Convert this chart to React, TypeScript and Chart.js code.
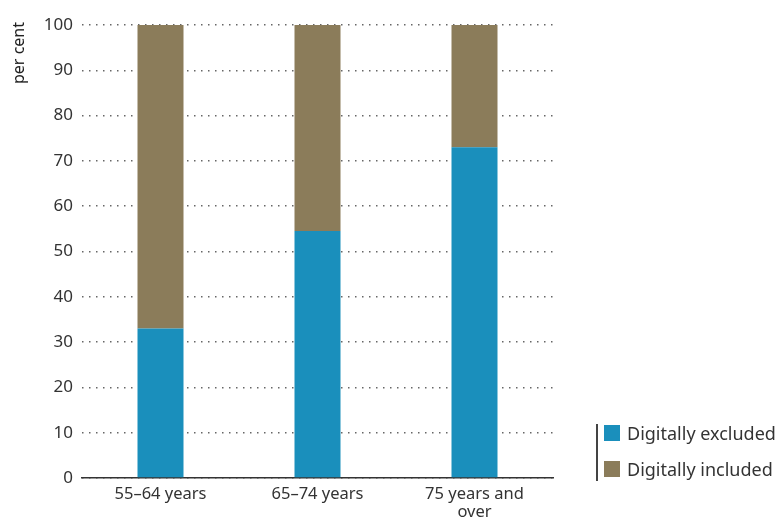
import React, { useEffect, useRef } from "react";
import { Chart, registerables } from "chart.js";

Chart.register(...registerables);

const categories: (string | string[])[] = ["55–64 years", "65–74 years", ["75 years and", "over"]];
const excluded = [33, 54.5, 73];
const included = [67, 45.5, 27];
const yTicks = [0, 10, 20, 30, 40, 50, 60, 70, 80, 90, 100];

const BLUE = "#1a8fbc";
const BROWN = "#8b7c5a";
const FONT = "'Noto Sans', sans-serif";
const TEXT = "#333333";

export default function App() {
  const ref = useRef<HTMLCanvasElement | null>(null);
  useEffect(() => {
    if (!ref.current) return;
    const chart = new Chart(ref.current, {
      type: "bar",
      data: {
        labels: categories as any,
        datasets: [
          { label: "Digitally excluded", data: excluded, backgroundColor: BLUE, barPercentage: 0.293, categoryPercentage: 1 },
          { label: "Digitally included", data: included, backgroundColor: BROWN, barPercentage: 0.293, categoryPercentage: 1 },
        ],
      },
      options: {
        animation: false,
        responsive: false,
        maintainAspectRatio: false,
        layout: { padding: { top: 25, right: 227, left: 0, bottom: 0 } },
        plugins: { legend: { display: false }, tooltip: { enabled: false } },
        scales: {
          x: {
            stacked: true,
            grid: { display: false, drawTicks: false },
            border: { display: true, color: "#333333", width: 1.5 },
            ticks: { color: TEXT, font: { family: FONT, size: 16.5, lineHeight: 1.1 }, padding: 7, maxRotation: 0 },
            afterFit: (s: any) => { s.height = 43; },
          },
          y: {
            stacked: true,
            min: 0,
            max: 100,
            afterBuildTicks: (s: any) => { s.ticks = yTicks.map((v) => ({ value: v })); },
            grid: { color: "#666666", lineWidth: 1.5, drawTicks: false },
            border: { display: false, dash: [1.5, 5.5] },
            ticks: { color: TEXT, font: { family: FONT, size: 17 }, padding: 9 },
            afterFit: (s: any) => { s.width = 82; },
          },
        },
      },
    });
    return () => chart.destroy();
  }, []);

  return (
    <div style={{ position: "absolute", left: 0, top: 0, width: 780, height: 521, background: "#fff" }}>
      <canvas ref={ref} width={780} height={521} style={{ position: "absolute", left: 0, top: 0 }} />
      <div
        style={{
          position: "absolute",
          left: 8,
          top: 84,
          transform: "rotate(-90deg)",
          transformOrigin: "0 0",
          fontFamily: FONT,
          fontSize: 16,
          color: "#222",
          whiteSpace: "nowrap",
          lineHeight: "20px",
        }}
      >
        per cent
      </div>
      <div style={{ position: "absolute", left: 596, top: 424, width: 1.5, height: 57, background: "#444" }} />
      {[
        { c: BLUE, t: "Digitally excluded", y: 425 },
        { c: BROWN, t: "Digitally included", y: 461 },
      ].map((e) => (
        <div key={e.t}>
          <div style={{ position: "absolute", left: 604, top: e.y, width: 16, height: 16, background: e.c }} />
          <div
            style={{
              position: "absolute",
              left: 627,
              top: e.y - 4,
              fontFamily: FONT,
              fontSize: 18,
              lineHeight: "24px",
              color: TEXT,
              whiteSpace: "nowrap",
            }}
          >
            {e.t}
          </div>
        </div>
      ))}
    </div>
  );
}
